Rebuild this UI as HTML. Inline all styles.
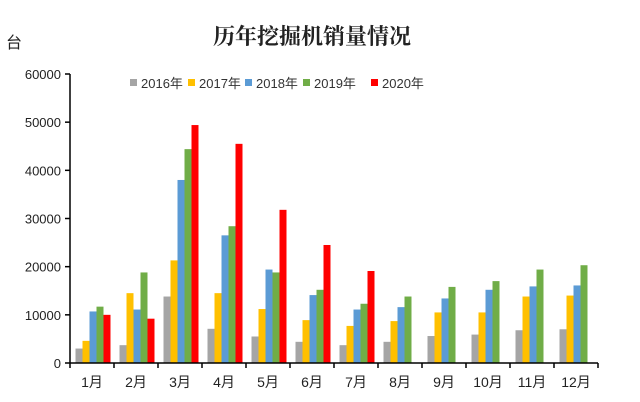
<!DOCTYPE html>
<html><head><meta charset="utf-8"><style>
body{margin:0;background:#fff;}
svg{display:block;font-family:"Liberation Sans","Noto Sans CJK SC",sans-serif;}
</style></head><body>
<svg id="c" width="640" height="402">
<text x="312" y="44" text-anchor="middle" font-size="22" font-weight="bold" font-family="'Noto Serif CJK SC',serif" fill="#222">历年挖掘机销量情况</text>
<text x="6" y="48" font-size="16" fill="#222">台</text>
</svg>
<script>
const categories=["1月","2月","3月","4月","5月","6月","7月","8月","9月","10月","11月","12月"];
const seriesNames=["2016年","2017年","2018年","2019年","2020年"];
const s2016=[3000,3700,13800,7100,5500,4400,3700,4400,5600,5900,6800,7000];
const s2017=[4600,14500,21300,14500,11200,8900,7700,8700,10500,10500,13800,14000];
const s2018=[10700,11100,38000,26500,19400,14100,11100,11600,13400,15200,15900,16100];
const s2019=[11700,18800,44400,28400,18800,15200,12300,13800,15800,17000,19400,20300];
const s2020=[10000,9200,49400,45500,31800,24500,19100];
const yTicks=[0,10000,20000,30000,40000,50000,60000];
const colors=["#a5a5a5","#ffc000","#5b9bd5","#70ad47","#ff0000"];
const series=[s2016,s2017,s2018,s2019,s2020];
const NS="http://www.w3.org/2000/svg";
const svg=document.getElementById('c');
const x0=70,x1=598,y0=363,yTop=74,yMax=60000;
const catW=(x1-x0)/categories.length;
function y(v){return y0-(v/yMax)*(y0-yTop);}
function xc(i){return x0+catW*(i+0.5);}
function mk(t,a){const e=document.createElementNS(NS,t);for(const k in a)e.setAttribute(k,a[k]);svg.appendChild(e);return e;}
// y axis
let ax=mk('line',{x1:x0,y1:yTop,x2:x0,y2:y0,stroke:'#000','stroke-width':1.5});


yTicks.forEach(v=>{
 const t=mk('line',{x1:x0-5,y1:y(v),x2:x0,y2:y(v),stroke:'#000','stroke-width':1.5});
 
 
 const l=mk('text',{x:x0-9,y:y(v)+5,'text-anchor':'end','font-size':13,fill:'#222'});
 l.textContent=v;
 
 
});
// bars
const bw=7;
series.forEach((s,si)=>{
 s.forEach((v,i)=>{
  const bx=xc(i)+(si-2.5)*bw+1;
  const r=mk('rect',{x:bx,y:y(v),width:bw,height:y0-y(v),fill:colors[si]});
  
  
 });
});
// x axis
let xa=mk('line',{x1:x0,y1:y0,x2:x1,y2:y0,stroke:'#000','stroke-width':1.5});


categories.forEach((c,i)=>{
 const t=mk('line',{x1:x0+catW*i,y1:y0,x2:x0+catW*i,y2:y0+5,stroke:'#000','stroke-width':1.5});
 
 
 const l=mk('text',{x:xc(i),y:y0+24,'text-anchor':'middle','font-size':14,fill:'#222'});
 l.textContent=c;
 
 
});
let t2=mk('line',{x1:x1,y1:y0,x2:x1,y2:y0+5,stroke:'#000','stroke-width':1.5});


// legend
const lx=[130,188,245,303,371];
seriesNames.forEach((n,i)=>{
 const r=mk('rect',{x:lx[i],y:79,width:7,height:7,fill:colors[i]});
 
 
 const l=mk('text',{x:lx[i]+11,y:88,'font-size':13,fill:'#333'});
 l.textContent=n;
 
 
});
</script>
</body></html>
